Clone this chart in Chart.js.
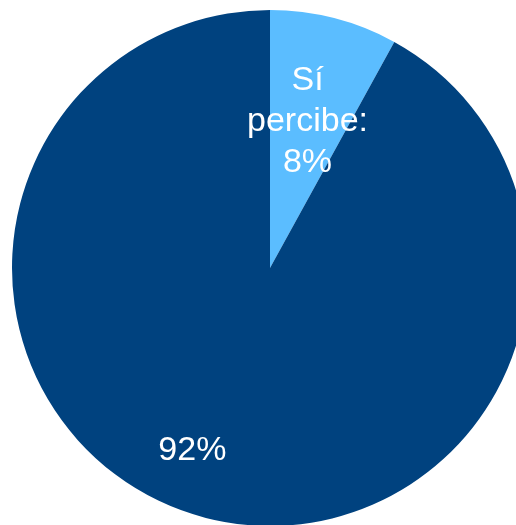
<!DOCTYPE html>
<html>
<head>
<meta charset="utf-8">
<script src="https://cdn.jsdelivr.net/npm/chart.js@4.4.1/dist/chart.umd.min.js"></script>
<style>
  html, body { margin: 0; padding: 0; background: #ffffff; overflow: hidden; width: 516px; height: 525px; }
  #wrap { position: absolute; left: 0; top: 0; width: 540px; height: 536px; }
</style>
</head>
<body>
<div id="wrap"><canvas id="pie" width="540" height="536"></canvas></div>
<script>
// Share of respondents who receive the benefit
const categories = ['Sí percibe', 'No percibe'];
const shares = [8, 92];
const sliceColors = ['#5bbdff', '#00427f'];
const labelLines = [['Sí', 'percibe:', '8%'], ['92%']];

// Where each label sits: angle (degrees clockwise from 12 o'clock) and fraction of radius
const labelAnchors = [
  { angle: null, frac: 0.585 },   // null = middle of the slice
  { angle: 203, frac: 0.77 }
];

const sliceLabels = {
  id: 'sliceLabels',
  afterDatasetsDraw(chart) {
    const ctx = chart.ctx;
    const meta = chart.getDatasetMeta(0);
    ctx.save();
    ctx.fillStyle = '#ffffff';
    ctx.font = '34px "Liberation Sans", Arial, sans-serif';
    ctx.textAlign = 'center';
    ctx.textBaseline = 'middle';
    const lineH = 41;
    meta.data.forEach((arc, i) => {
      const p = arc.getProps(['x', 'y', 'startAngle', 'endAngle', 'outerRadius'], true);
      const a = labelAnchors[i];
      const ang = a.angle === null
        ? (p.startAngle + p.endAngle) / 2
        : (a.angle - 90) * Math.PI / 180;
      const r = p.outerRadius * a.frac;
      const cx = p.x + Math.cos(ang) * r;
      const cy = p.y + Math.sin(ang) * r;
      const lines = labelLines[i];
      const y0 = cy - (lines.length - 1) * lineH / 2;
      lines.forEach((t, k) => ctx.fillText(t, cx, y0 + k * lineH));
    });
    ctx.restore();
  }
};

new Chart(document.getElementById('pie'), {
  type: 'pie',
  data: {
    labels: categories,
    datasets: [{
      data: shares,
      backgroundColor: sliceColors,
      borderWidth: 0
    }]
  },
  options: {
    responsive: false,
    animation: false,
    layout: { padding: 10 },
    plugins: {
      legend: { display: false },
      tooltip: { enabled: false }
    }
  },
  plugins: [sliceLabels]
});
</script>
</body>
</html>
